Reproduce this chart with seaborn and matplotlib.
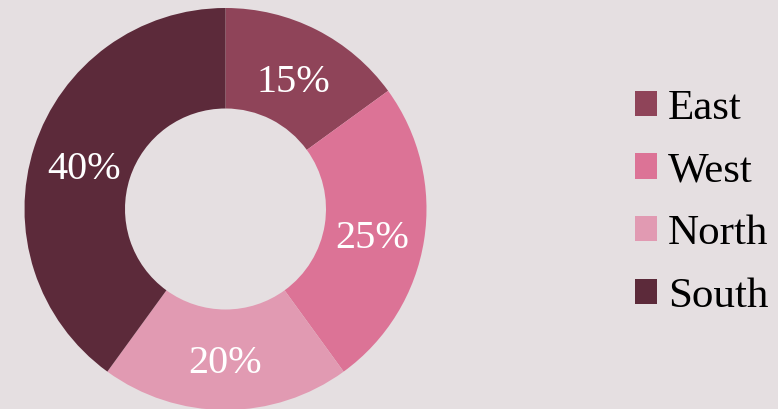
import matplotlib
matplotlib.use('Agg')
import matplotlib.pyplot as plt
import matplotlib.transforms as mtransforms
import seaborn as sns

# 数据
regions = ['East', 'West', 'North', 'South']
shares = [15, 25, 20, 40]
colors = ['#8f4459', '#dc7396', '#e19ab2', '#5c2a3a']

sns.set_theme(style='white')
plt.rcParams['font.family'] = ['Liberation Serif', 'DejaVu Serif']

bg = '#e5dfe1'
fig = plt.figure(figsize=(7.78, 4.09), dpi=100, facecolor=bg)

# 圆心约在 (225, 209)，外半径约 201 px
cx, cy, r = 225.5, 409 - 209, 201
ax = fig.add_axes([(cx - r) / 778, (cy - r) / 409, 2 * r / 778, 2 * r / 409])
ax.set_facecolor('none')

wedges, texts, autotexts = ax.pie(
    shares,
    colors=sns.color_palette(colors),
    startangle=90,
    counterclock=False,
    radius=1,
    autopct='%d%%',
    pctdistance=0.74,
    wedgeprops=dict(width=0.5, edgecolor='none'),
    textprops=dict(color='white', fontsize=29),
)
# 百分比标签稍微往下挪一点
shift = mtransforms.offset_copy(ax.transData, fig=fig, x=0, y=-6, units='dots')
for t in autotexts:
    t.set_transform(shift)

ax.set_xlim(-1, 1)
ax.set_ylim(-1, 1)
ax.set_aspect('equal')

fig.legend(
    wedges, regions,
    loc='center left',
    bbox_to_anchor=(613 / 778, 0.505),
    frameon=False,
    fontsize=31,
    handlelength=0.53,
    handleheight=0.53,
    handletextpad=0.25,
    labelspacing=0.56,
    borderpad=0,
    labelcolor='black',
)

fig.savefig('out.png', dpi=100, facecolor=bg)
